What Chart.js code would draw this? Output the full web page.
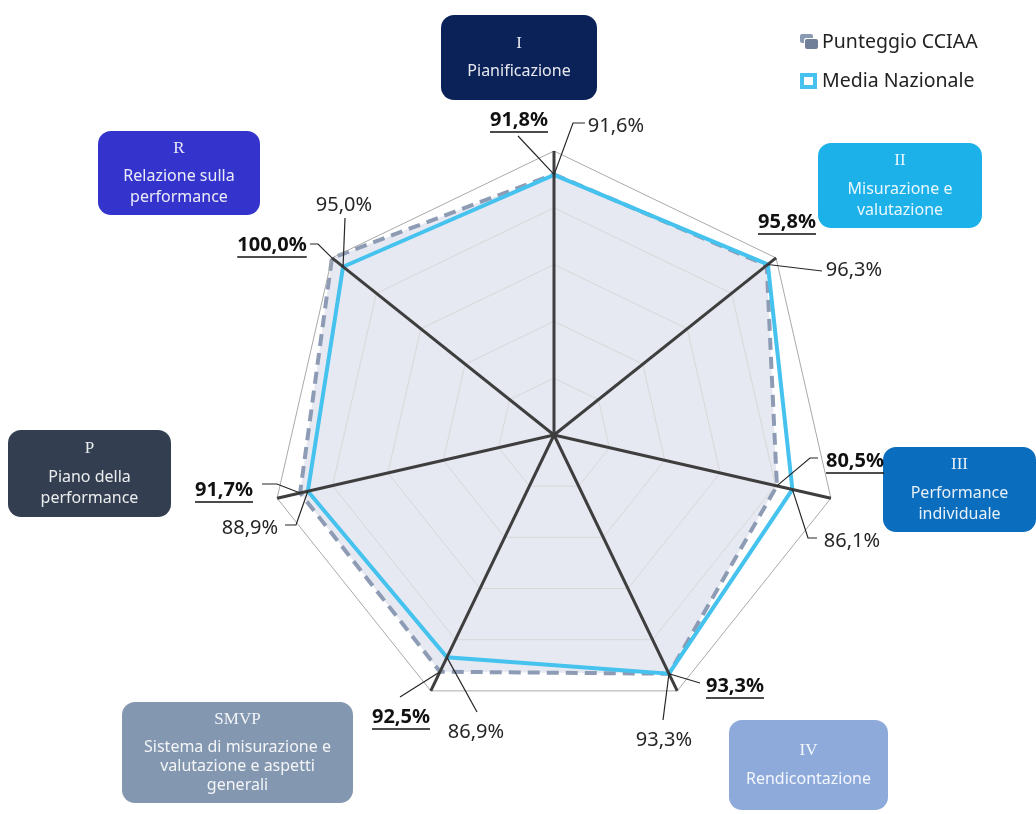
<!DOCTYPE html>
<html>
<head>
<meta charset="utf-8">
<script src="https://cdn.jsdelivr.net/npm/chart.js@4.4.0/dist/chart.umd.min.js"></script>
<style>
html,body{margin:0;padding:0;background:#fff;}
#wrap{position:relative;width:1036px;height:814px;}
</style>
</head>
<body>
<div id="wrap"><canvas id="c"></canvas></div>
<script>
// dati
var categories=['I','II','III','IV','SMVP','P','R'];
var catTitles=[['Pianificazione'],['Misurazione e','valutazione'],['Performance','individuale'],['Rendicontazione'],['Sistema di misurazione e','valutazione e aspetti','generali'],['Piano della','performance'],['Relazione sulla','performance']];
var seriesNames=['Punteggio CCIAA','Media Nazionale'];
var cciaa=[91.8,95.8,80.5,93.3,92.5,91.7,100.0];
var media=[91.6,96.3,86.1,93.3,86.9,88.9,95.0];
var tickValues=[0,20,40,60,80,100];

// riquadri delle categorie (posizione sulla pagina) e colori
var boxes=[
  {x:441,y:15,w:156,h:85,col:'#0b2259'},
  {x:818,y:143,w:164,h:85,col:'#1db1ea'},
  {x:883,y:447,w:153,h:85,col:'#0a6dbd'},
  {x:729,y:720,w:159,h:90,col:'#8eaadb'},
  {x:122,y:702,w:231,h:101,col:'#8497b0'},
  {x:8,y:430,w:163,h:87,col:'#333f50'},
  {x:98,y:131,w:162,h:84,col:'#3434cc'}
];
// etichette valori: t = centro testo rispetto al centro del radar, l = punti della linea guida
var labelLayout=[
  {c:{t:[-35,-315],l:[[-36,-299]]},            m:{t:[62,-309],l:[[31,-312],[19,-312]]}},
  {c:{t:[233,-213],l:[]},                      m:{t:[300,-165],l:[[268,-164]]}},
  {c:{t:[301,26],l:[[264,23],[256,23]]},       m:{t:[298,106],l:[[263,103],[254,103]]}},
  {c:{t:[181,251],l:[[146,248]]},              m:{t:[110,305],l:[[109,285]]}},
  {c:{t:[-153,282],l:[[-154,262]]},            m:{t:[-78,297],l:[[-77,277]]}},
  {c:{t:[-330,55],l:[[-292,49],[-277,49]]},    m:{t:[-304,93],l:[[-269,90],[-258,90]]}},
  {c:{t:[-282,-190],l:[[-244,-191],[-236,-191]]}, m:{t:[-210,-230],l:[[-209,-217]]}}
];

var SANS='"Noto Sans", "Open Sans", sans-serif';
var fmt=function(v){return v.toFixed(1).replace('.',',')+'%';};

function rr(ctx,x,y,w,h,r){ctx.beginPath();ctx.roundRect(x,y,w,h,r);}

var decor={
  id:'decor',
  afterDraw:function(chart){
    var ctx=chart.ctx, sc=chart.scales.r, cx=sc.xCenter, cy=sc.yCenter;
    ctx.save();
    // riquadri categorie
    boxes.forEach(function(b,i){
      ctx.fillStyle=b.col; rr(ctx,b.x,b.y,b.w,b.h,13); ctx.fill();
      var lines=catTitles[i], lh=lines.length>2?19:21, gap=28;
      var total=gap+(lines.length-1)*lh;
      var y0=b.y+b.h/2-total/2;
      ctx.fillStyle='rgba(255,255,255,0.9)'; ctx.textAlign='center'; ctx.textBaseline='middle';
      ctx.font='17px "Liberation Serif", "DejaVu Serif", serif';
      ctx.fillText(categories[i],b.x+b.w/2,y0);
      ctx.font='16px '+SANS;
      lines.forEach(function(s,k){ctx.fillText(s,b.x+b.w/2,y0+gap+k*lh);});
    });
    // etichette valori e linee guida
    [cciaa,media].forEach(function(arr,d){
      arr.forEach(function(v,i){
        var L=d===0?labelLayout[i].c:labelLayout[i].m;
        var p=sc.getPointPositionForValue(i,v);
        if(L.l.length){
          ctx.strokeStyle='#262626'; ctx.lineWidth=1.2; ctx.beginPath();
          ctx.moveTo(cx+L.l[0][0],cy+L.l[0][1]);
          for(var k=1;k<L.l.length;k++) ctx.lineTo(cx+L.l[k][0],cy+L.l[k][1]);
          ctx.lineTo(p.x,p.y); ctx.stroke();
        }
        var tx=cx+L.t[0], ty=cy+L.t[1], s=fmt(v);
        ctx.textAlign='center'; ctx.textBaseline='middle';
        if(d===0){
          ctx.font='bold 20px '+SANS; ctx.fillStyle='#111';
          ctx.fillText(s,tx,ty);
          var w=ctx.measureText(s).width;
          ctx.strokeStyle='#111'; ctx.lineWidth=1.6; ctx.beginPath();
          ctx.moveTo(tx-w/2,ty+12); ctx.lineTo(tx+w/2,ty+12); ctx.stroke();
        } else {
          ctx.font='20px '+SANS; ctx.fillStyle='#262626';
          ctx.fillText(s,tx,ty);
        }
      });
    });
    // legenda
    ctx.textAlign='left'; ctx.textBaseline='middle';
    ctx.fillStyle='#8a9ab2'; rr(ctx,800,34,13,9,2); ctx.fill();
    ctx.fillStyle='#ffffff'; rr(ctx,804,38,15,12,2); ctx.fill();
    ctx.fillStyle='#6f8098'; rr(ctx,805,39,13,10,2); ctx.fill();
    ctx.fillStyle='#45c3ee'; ctx.fillRect(800,73,17,16);
    ctx.fillStyle='#fff'; ctx.fillRect(804,77,9,8);
    ctx.font='19.5px '+SANS; ctx.fillStyle='#222';
    ctx.fillText(seriesNames[0],822,42);
    ctx.fillText(seriesNames[1],822,81);
    ctx.restore();
  }
};

new Chart(document.getElementById('c'),{
  type:'radar',
  data:{labels:categories,datasets:[
    {label:seriesNames[0],data:cciaa,borderColor:'#8d9cb4',borderDash:[12,7],borderWidth:4,backgroundColor:'#e7e9f2',fill:true,pointRadius:0,order:2,tension:0},
    {label:seriesNames[1],data:media,borderColor:'#45c3ee',borderWidth:4,fill:false,pointRadius:0,order:1,tension:0}
  ]},
  options:{
    responsive:true,maintainAspectRatio:false,animation:false,events:[],
    layout:{padding:{left:270,right:198,top:151,bottom:95}},
    plugins:{legend:{display:false},tooltip:{enabled:false}},
    scales:{r:{
      min:tickValues[0],max:tickValues[tickValues.length-1],
      ticks:{display:false,stepSize:tickValues[1]-tickValues[0]},
      pointLabels:{display:false},
      grid:{z:1,lineWidth:1,color:function(c){return c.tick&&c.tick.value===100?'#a9a9a9':'#d8d8d8';}},
      angleLines:{color:'#3e3e3e',lineWidth:3}
    }}
  },
  plugins:[decor]
});
</script>
</body>
</html>
